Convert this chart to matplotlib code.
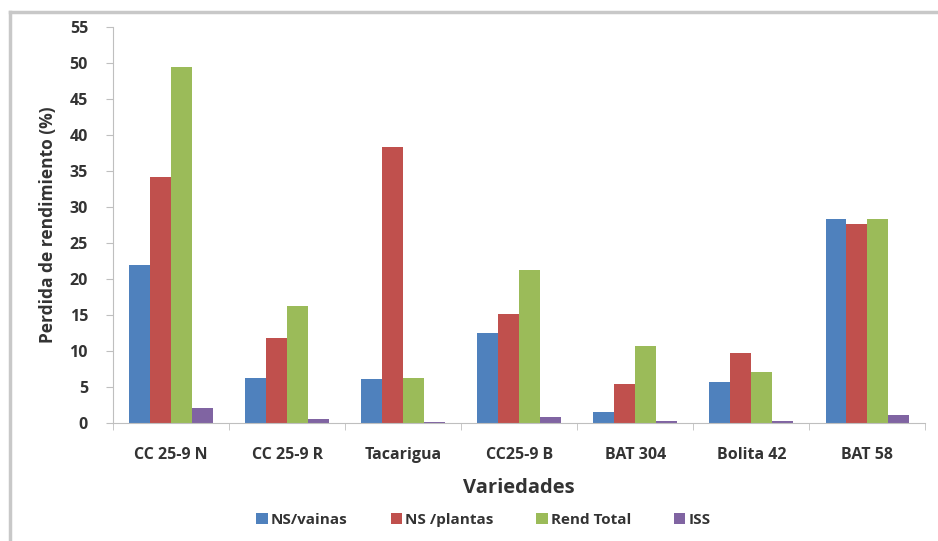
import matplotlib
matplotlib.use("Agg")
import matplotlib.pyplot as plt
import numpy as np
from matplotlib.lines import Line2D

variedades = ["CC 25-9 N", "CC 25-9 R", "Tacarigua", "CC25-9 B", "BAT 304", "Bolita 42", "BAT 58"]
ns_vainas = [21.9, 6.3, 6.1, 12.5, 1.6, 5.7, 28.4]
ns_plantas = [34.2, 11.8, 38.3, 15.1, 5.4, 9.7, 27.6]
rend_total = [49.5, 16.3, 6.3, 21.2, 10.7, 7.1, 28.4]
iss = [2.1, 0.5, 0.2, 0.8, 0.3, 0.3, 1.1]

series = [ns_vainas, ns_plantas, rend_total, iss]
nombres = ["NS/vainas", "NS /plantas", "Rend Total", "ISS"]
colores = ["#4F81BD", "#C0504D", "#9BBB59", "#8064A2"]

plt.rcParams['font.family'] = ['Open Sans', 'DejaVu Sans']
plt.rcParams['font.weight'] = 'bold'

fig = plt.figure(figsize=(9.38, 5.41), dpi=100)
ax = fig.add_axes([0.1205, 0.218, 0.866, 0.732])

x = np.arange(len(variedades))
w = 0.18
for i, (vals, nom, col) in enumerate(zip(series, nombres, colores)):
    ax.bar(x + (i - 1.5) * w, vals, w, color=col, label=nom)

ax.set_xlim(-0.5, len(variedades) - 0.5)
ax.set_ylim(0, 55)
ax.set_yticks(range(0, 56, 5))
ax.set_xticks(x)
ax.set_xticklabels(variedades)
ax.set_xticks(np.arange(-0.5, len(variedades), 1), minor=True)
ax.tick_params(axis='x', which='major', length=0, pad=17, labelsize=11.5, labelcolor='#333333')
ax.tick_params(axis='x', which='minor', length=5, color='#bfbfbf')
ax.tick_params(axis='y', length=5, color='#bfbfbf', labelsize=11.5, labelcolor='#333333', pad=13)

for s in ['top', 'right']:
    ax.spines[s].set_visible(False)
for s in ['left', 'bottom']:
    ax.spines[s].set_color('#bfbfbf')

ax.set_ylabel("Perdida de rendimiento (%)", fontsize=12.5, fontweight='bold', color='#333333', labelpad=9)
ax.set_xlabel("Variedades", fontsize=14.5, fontweight='bold', color='#333333', labelpad=11)

ax.legend(loc='center', bbox_to_anchor=(0.456, -0.245), ncol=4, frameon=False,
          fontsize=11, handlelength=0.75, handleheight=0.75, handletextpad=0.2,
          columnspacing=2.8, labelcolor='#333333')

# outer chart-area border (cropped at right and bottom)
fig.add_artist(Line2D([10 / 938, 1.0], [1 - 12 / 541, 1 - 12 / 541], transform=fig.transFigure,
                      color='#c8c8c8', lw=2.5))
fig.add_artist(Line2D([10 / 938, 10 / 938], [0.0, 1 - 12 / 541], transform=fig.transFigure,
                      color='#c8c8c8', lw=2.5))

fig.savefig("out.png", dpi=100)
